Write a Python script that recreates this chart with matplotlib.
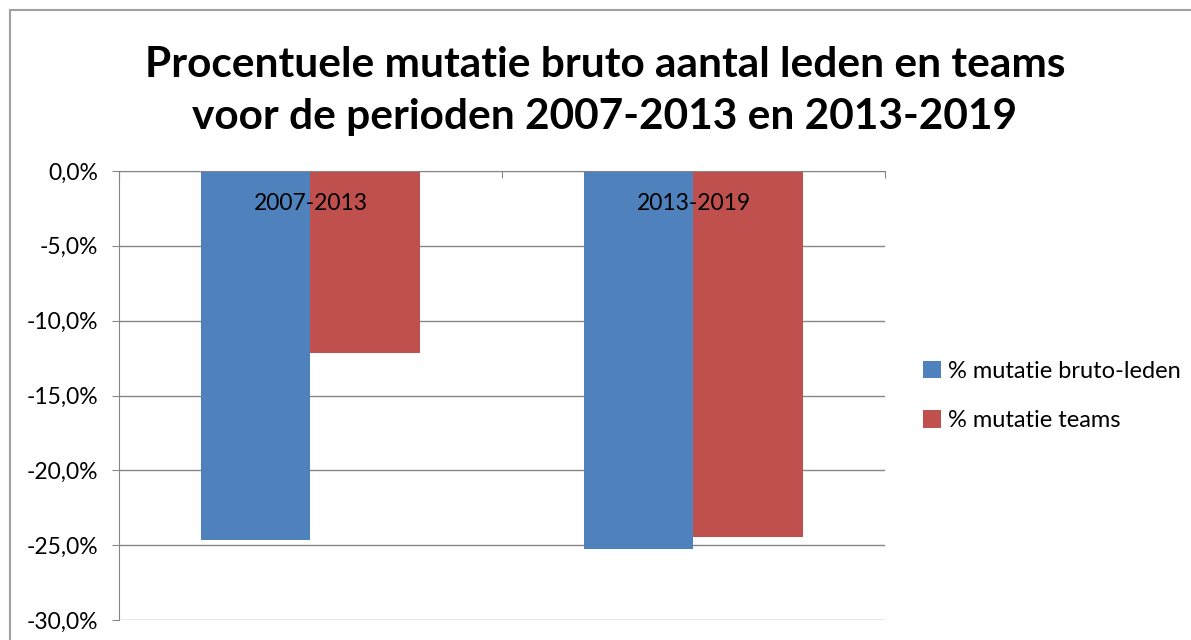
import numpy as np
import matplotlib
matplotlib.use('Agg')
import matplotlib.pyplot as plt
from matplotlib.patches import Rectangle

plt.rcParams['font.family'] = ['Lato', 'DejaVu Sans']

periods = ['2007-2013', '2013-2019']
leden = [-24.65, -25.27]   # % mutatie bruto-leden
teams = [-12.19, -24.45]   # % mutatie teams
yticks = [0, -5, -10, -15, -20, -25, -30]

fig = plt.figure(figsize=(11.91, 6.4), dpi=100)
ax = fig.add_axes([119/1191, 1 - 620/640, (885-119)/1191, (620-171)/640])

# outer chart frame (extends past the bottom/right edge like the screenshot)
fig.patches.append(Rectangle((10/1191, -0.1), 1.2, 1 - 10/640 + 0.1,
                             transform=fig.transFigure, fill=False,
                             edgecolor='#a0a0a0', linewidth=1.5))

ind = np.arange(len(periods)) + 0.5
width = 1 / 3.5   # excel gap width 150%
b1 = ax.bar(ind - width/2, leden, width, color='#4F81BD', label='% mutatie bruto-leden', zorder=3)
b2 = ax.bar(ind + width/2, teams, width, color='#C0504D', label='% mutatie teams', zorder=3)

ax.set_xlim(0, 2)
ax.set_ylim(-30, 0)
ax.set_yticks(yticks)
ax.set_yticklabels([f'{v:.1f}%'.replace('.', ',') for v in yticks], fontsize=16.5)
ax.yaxis.grid(True, color='#868686', linewidth=1, zorder=0)
ax.tick_params(axis='y', length=5, color='#868686', pad=10)

# category axis sits at 0 (top), ticks at category boundaries
ax.set_xticks([0, 1, 2])
ax.set_xticklabels([])
ax.xaxis.set_ticks_position('top')
ax.tick_params(axis='x', direction='in', length=5, color='#868686')
for i, p in enumerate(periods):
    ax.text(ind[i], -2.15, p, ha='center', va='center', fontsize=16.5, zorder=4)

for s in ['right', 'bottom']:
    ax.spines[s].set_visible(False)
for s in ['left', 'top']:
    ax.spines[s].set_color('#868686')
ax.spines['top'].set_zorder(5)

fig.text(605/1191, 1 - 91/640,
         'Procentuele mutatie bruto aantal leden en teams\nvoor de perioden 2007-2013 en 2013-2019',
         ha='center', va='center', fontsize=30.5, fontweight='bold', linespacing=1.45)

fig.legend(handles=[b1, b2], loc='center left', bbox_to_anchor=(914/1191, 1 - 396/640),
           frameon=False, fontsize=17, handlelength=0.75, handleheight=0.75,
           handletextpad=0.3, labelspacing=1.2, borderaxespad=0)

fig.savefig('out.png', dpi=100)
